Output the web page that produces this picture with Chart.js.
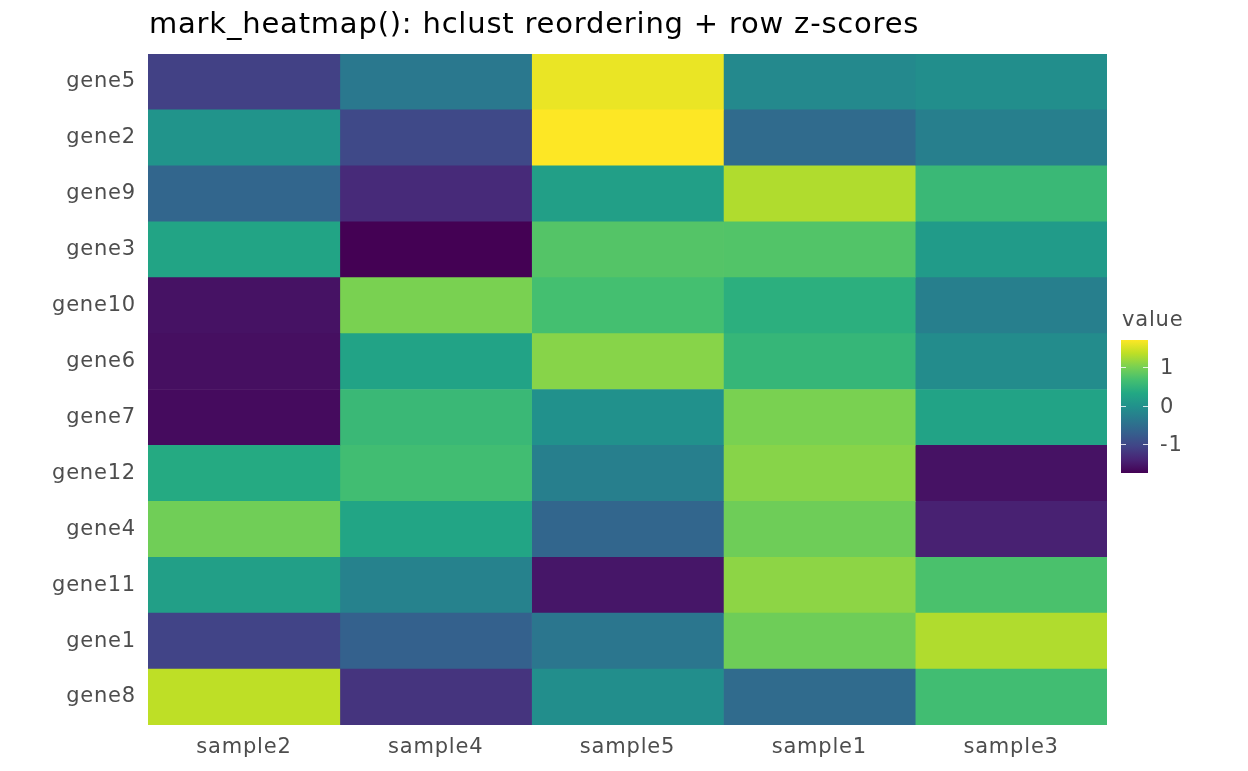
<!DOCTYPE html>
<html><head><meta charset="utf-8">
<script src="https://cdn.jsdelivr.net/npm/chart.js@4"></script>
<style>html,body{margin:0;padding:0;background:#fff}#wrap{width:1248px;height:771px}</style>
</head><body><div id="wrap"><canvas id="c" width="1248" height="771"></canvas></div>
<script>
const titleText = 'mark_heatmap(): hclust reordering + row z-scores';
const samples = ['sample2','sample4','sample5','sample1','sample3'];
const genes = ['gene5','gene2','gene9','gene3','gene10','gene6','gene7','gene12','gene4','gene11','gene1','gene8'];
// row z-scores, one array per sample column (order follows genes)
const sample2 = [-1.09, 0.02, -0.61, 0.26, -1.57, -1.60, -1.64, 0.35, 0.94, 0.18, -1.05, 1.35];
const sample4 = [-0.37, -0.99, -1.33, -1.74, 1.00, 0.25, 0.56, 0.63, 0.28, -0.23, -0.68, -1.23];
const sample5 = [1.59, 1.69, 0.18, 0.76, 0.66, 1.07, -0.03, -0.27, -0.61, -1.53, -0.40, -0.06];
const sample1 = [-0.13, -0.54, 1.28, 0.75, 0.42, 0.52, 1.00, 1.07, 0.93, 1.10, 0.93, -0.54];
const sample3 = [-0.06, -0.27, 0.56, 0.12, -0.27, -0.09, 0.25, -1.57, -1.43, 0.70, 1.28, 0.63];
const legendTicks = [1, 0, -1];

const columns = [sample2, sample4, sample5, sample1, sample3];
const allVals = columns.flat();
const zMin = Math.min(...allVals), zMax = Math.max(...allVals);

const viridis = ['#440154','#482475','#414487','#355f8d','#2a788e','#21918c','#22a884','#44bf70','#7ad151','#bddf26','#fde725'];
function hex2rgb(h){return [parseInt(h.slice(1,3),16),parseInt(h.slice(3,5),16),parseInt(h.slice(5,7),16)];}
function colorAt(f){
  f = Math.max(0, Math.min(1, f));
  const p = f*(viridis.length-1), i = Math.min(Math.floor(p), viridis.length-2), t = p-i;
  const a = hex2rgb(viridis[i]), b = hex2rgb(viridis[i+1]);
  const c = a.map((v,k)=>Math.round(v+(b[k]-v)*t));
  return `rgb(${c[0]},${c[1]},${c[2]})`;
}
function colorFor(v){ return colorAt((v - zMin)/(zMax - zMin)); }

const FONT = "'DejaVu Sans', sans-serif";
const TXT = '#4d4d4d';
const LABEL_SPACING = '0.8px';

const spacingPlugin = {
  id: 'spacing',
  beforeDraw(chart){ if ('letterSpacing' in chart.ctx) chart.ctx.letterSpacing = LABEL_SPACING; }
};

const titlePlugin = {
  id: 'ggTitle',
  afterDraw(chart){
    const ctx = chart.ctx;
    ctx.save();
    if ('letterSpacing' in ctx) ctx.letterSpacing = '0.8px';
    ctx.fillStyle = '#000';
    ctx.font = `29px ${FONT}`;
    ctx.textBaseline = 'alphabetic';
    ctx.textAlign = 'left';
    ctx.fillText(titleText, chart.chartArea.left + 1, 33);
    ctx.restore();
  }
};

const legendPlugin = {
  id: 'colorbar',
  afterDraw(chart){
    const ctx = chart.ctx;
    const x0 = 1121, w = 27, yTop = 340, yBot = 473;
    ctx.save();
    if ('letterSpacing' in ctx) ctx.letterSpacing = LABEL_SPACING;
    ctx.fillStyle = TXT;
    ctx.font = `21px ${FONT}`;
    ctx.textAlign = 'left';
    ctx.textBaseline = 'alphabetic';
    ctx.fillText('value', 1122, 326);
    const g = ctx.createLinearGradient(0, yBot, 0, yTop);
    viridis.forEach((c,i)=>g.addColorStop(i/(viridis.length-1), c));
    ctx.fillStyle = g;
    ctx.fillRect(x0, yTop, w, yBot-yTop);
    const yOf = v => yBot - (v - zMin)/(zMax - zMin)*(yBot-yTop);
    ctx.strokeStyle = 'rgba(255,255,255,0.8)';
    ctx.lineWidth = 1;
    ctx.font = `21px ${FONT}`;
    ctx.textBaseline = 'middle';
    legendTicks.forEach(v=>{
      const y = Math.round(yOf(v)) + 0.5;
      ctx.beginPath();
      ctx.moveTo(x0, y); ctx.lineTo(x0+5, y);
      ctx.moveTo(x0+w-5, y); ctx.lineTo(x0+w, y);
      ctx.stroke();
      ctx.fillStyle = TXT;
      ctx.fillText(String(v), 1160, y + 1);
    });
    ctx.restore();
  }
};

const datasets = samples.map((s, j) => ({
  label: s,
  data: genes.map(() => [j, j + 1]),
  backgroundColor: columns[j].map(colorFor),
  borderWidth: 0,
  grouped: false,
  barPercentage: 1,
  categoryPercentage: 1
}));

new Chart(document.getElementById('c'), {
  type: 'bar',
  data: { labels: genes, datasets },
  options: {
    indexAxis: 'y',
    responsive: false,
    animation: false,
    devicePixelRatio: 1,
    layout: { padding: { top: 54, right: 141, left: 0, bottom: 0 } },
    plugins: { legend: { display: false }, tooltip: { enabled: false }, title: { display: false } },
    scales: {
      x: {
        type: 'linear', min: 0, max: 5,
        grid: { display: false, drawTicks: false },
        border: { display: false },
        afterBuildTicks: s => { s.ticks = samples.map((_, j) => ({ value: j + 0.5 })); },
        ticks: { autoSkip: false, maxRotation: 0, color: TXT, font: { family: FONT, size: 21 }, padding: 10,
                 callback: v => samples[Math.floor(v)] },
        afterFit: s => { s.height = 46; }
      },
      y: {
        type: 'category',
        grid: { display: false, drawTicks: false },
        border: { display: false },
        ticks: { autoSkip: false, color: TXT, font: { family: FONT, size: 21 }, padding: 12 },
        afterFit: s => { s.width = 148; }
      }
    }
  },
  plugins: [spacingPlugin, titlePlugin, legendPlugin]
});
</script></body></html>
